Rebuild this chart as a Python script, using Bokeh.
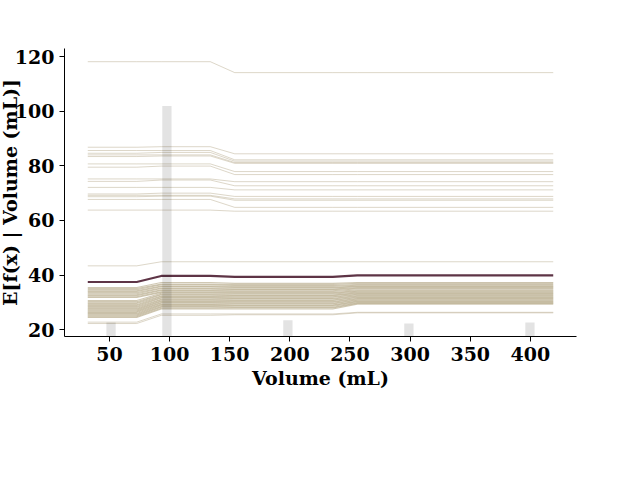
from bokeh.plotting import figure
from bokeh.models import Range1d, FixedTicker
from bokeh.embed import file_html
from bokeh.resources import INLINE

# ICE grid (feature values) where the curves change
grid_x = [32.0, 72.7, 93.1, 133.9, 154.2, 235.7, 256.1, 419.0]

# individual conditional expectation curves, upper group
ice_upper = [
    [118.1, 118.1, 118.1, 118.1, 114.1, 114.1, 114.1, 114.1],
    [86.8, 86.8, 87.0, 87.0, 84.4, 84.4, 84.4, 84.4],
    [85.6, 85.6, 85.6, 85.6, 82.2, 82.2, 82.2, 82.2],
    [84.6, 84.6, 84.9, 84.9, 81.7, 81.7, 81.7, 81.7],
    [84.0, 84.0, 84.0, 84.0, 81.2, 81.2, 81.2, 81.2],
    [83.4, 83.4, 83.6, 83.6, 80.9, 80.9, 80.9, 80.9],
    [80.7, 80.7, 80.7, 80.7, 77.9, 77.9, 77.9, 77.9],
    [79.5, 79.5, 79.9, 79.9, 76.8, 76.8, 76.8, 76.8],
    [75.2, 75.2, 75.2, 75.2, 74.2, 74.2, 74.2, 74.2],
    [74.3, 74.3, 74.8, 74.8, 72.7, 72.7, 72.7, 72.7],
    [72.1, 72.1, 72.1, 72.1, 71.2, 71.2, 71.2, 71.2],
    [69.7, 69.7, 70.0, 70.0, 68.8, 68.8, 68.8, 68.8],
    [69.2, 69.2, 69.2, 69.2, 67.9, 67.9, 67.9, 67.9],
    [68.7, 68.7, 68.9, 68.9, 67.4, 67.4, 67.4, 67.4],
    [67.7, 67.7, 67.7, 67.7, 64.8, 64.8, 64.8, 64.8],
    [63.8, 63.8, 63.8, 63.8, 63.4, 63.4, 63.4, 63.4],
]

# isolated (faint) curves of the lower group
ice_lower_faint = [
    [43.4, 43.4, 44.9, 44.9, 44.9, 44.9, 44.9, 44.9],
    [22.8, 22.8, 25.8, 25.8, 25.8, 25.8, 26.4, 26.4],
    [22.3, 22.3, 25.3, 25.3, 25.5, 25.5, 26.2, 26.2],
]

# dense band of curves in the lower group
ice_lower_dense = [
    [35.5, 35.5, 37.3, 37.3, 37.0, 37.0, 37.3, 37.3],
    [35.1, 35.1, 36.7, 36.7, 36.6, 36.6, 37.0, 37.0],
    [34.7, 34.7, 36.5, 36.5, 36.2, 36.2, 36.6, 36.6],
    [34.3, 34.3, 36.0, 36.0, 35.9, 35.9, 36.3, 36.3],
    [34.0, 34.0, 35.8, 35.8, 35.5, 35.5, 36.0, 36.0],
    [33.6, 33.6, 35.3, 35.3, 35.3, 35.3, 35.8, 35.8],
    [33.2, 33.2, 35.1, 35.1, 34.9, 34.9, 35.5, 35.5],
    [32.8, 32.8, 34.6, 34.6, 34.7, 34.7, 35.2, 35.2],
    [32.5, 32.5, 34.4, 34.4, 34.3, 34.3, 35.0, 35.0],
    [32.1, 32.1, 33.9, 33.9, 34.0, 34.0, 34.6, 34.6],
    [31.8, 31.8, 33.7, 33.7, 33.6, 33.6, 34.3, 34.3],
    [30.7, 30.7, 33.4, 33.4, 33.4, 33.4, 34.1, 34.1],
    [30.3, 30.3, 33.0, 33.0, 33.1, 33.1, 33.8, 33.8],
    [29.9, 29.9, 32.8, 32.8, 32.7, 32.7, 33.5, 33.5],
    [29.6, 29.6, 32.4, 32.4, 32.5, 32.5, 33.3, 33.3],
    [29.2, 29.2, 32.2, 32.2, 32.1, 32.1, 33.0, 33.0],
    [28.9, 28.9, 31.8, 31.8, 31.9, 31.9, 32.8, 32.8],
    [28.5, 28.5, 31.6, 31.6, 31.5, 31.5, 32.5, 32.5],
    [28.2, 28.2, 31.2, 31.2, 31.3, 31.3, 32.3, 32.3],
    [27.8, 27.8, 31.0, 31.0, 30.9, 30.9, 32.0, 32.0],
    [27.5, 27.5, 30.6, 30.6, 30.7, 30.7, 31.8, 31.8],
    [27.2, 27.2, 30.4, 30.4, 30.3, 30.3, 31.5, 31.5],
    [26.9, 26.9, 30.0, 30.0, 30.1, 30.1, 31.3, 31.3],
    [26.6, 26.6, 29.8, 29.8, 29.7, 29.7, 31.0, 31.0],
    [26.3, 26.3, 29.4, 29.4, 29.5, 29.5, 30.8, 30.8],
    [26.0, 26.0, 29.2, 29.2, 29.1, 29.1, 30.5, 30.5],
    [25.7, 25.7, 28.9, 28.9, 28.9, 28.9, 30.3, 30.3],
    [25.4, 25.4, 28.5, 28.5, 28.6, 28.6, 30.0, 30.0],
    [25.1, 25.1, 28.3, 28.3, 28.2, 28.2, 29.8, 29.8],
    [24.8, 24.8, 27.9, 27.9, 28.0, 28.0, 29.6, 29.6],
    [24.5, 24.5, 27.6, 27.6, 27.6, 27.6, 29.4, 29.4],
]

# average (partial dependence) curve
mean_curve = [37.5, 37.5, 39.7, 39.7, 39.4, 39.4, 39.9, 39.9]

# histogram of the feature (fraction of samples per bin)
hist_centers = [51.35, 97.8, 198.4, 299.0, 399.65]
hist_frac = [0.049, 0.80, 0.056, 0.045, 0.049]
hist_width = 7.74

x_ticks = [50, 100, 150, 200, 250, 300, 350, 400]
y_ticks = [20, 40, 60, 80, 100, 120]
x_label = "Volume (mL)"
y_label = "E[f(x) | Volume (mL)]"

FONT = "DejaVu Serif"
FS = "19px"

p = figure(width=660, height=480, output_backend="svg", toolbar_location=None,
           x_range=Range1d(12.65, 438.35), y_range=Range1d(17.55, 122.93),
           min_border_left=84, min_border_right=64, min_border_top=48,
           min_border_bottom=144, margin=(0, 0, 0, -20))
p.extra_y_ranges = {"hist": Range1d(0, 1)}

faint = ice_upper + ice_lower_faint
p.multi_line(xs=[grid_x] * len(faint), ys=faint,
             line_color="#bcb093", line_alpha=0.5, line_width=1)
p.multi_line(xs=[grid_x] * len(ice_lower_dense), ys=ice_lower_dense,
             line_color="#bcb093", line_alpha=0.7, line_width=1.1)
p.line(grid_x, mean_curve, line_color="#5e3446", line_width=2.2)
p.vbar(x=hist_centers, top=hist_frac, bottom=0, width=hist_width,
       y_range_name="hist", fill_color="#000000", fill_alpha=0.11,
       line_color=None)

p.outline_line_color = None
p.xgrid.visible = False
p.ygrid.visible = False

for ax in (p.xaxis[0], p.yaxis[0]):
    ax.axis_line_color = "black"
    ax.axis_line_width = 1
    ax.major_tick_line_color = "black"
    ax.major_tick_out = 5
    ax.major_tick_in = 0
    ax.minor_tick_line_color = None
    ax.major_label_standoff = 5
    ax.major_label_text_font = FONT
    ax.major_label_text_font_style = "bold"
    ax.major_label_text_font_size = FS
    ax.major_label_text_color = "black"
    ax.axis_label_text_font = FONT
    ax.axis_label_text_font_style = "bold"
    ax.axis_label_text_font_size = FS
    ax.axis_label_text_color = "black"

p.xaxis[0].ticker = FixedTicker(ticks=x_ticks)
p.yaxis[0].ticker = FixedTicker(ticks=y_ticks)
p.xaxis[0].axis_label = x_label
p.xaxis[0].axis_label_standoff = 3
p.yaxis[0].axis_label = y_label
p.yaxis[0].axis_label_standoff = -9

open("out.html", "w").write(file_html(p, INLINE))
